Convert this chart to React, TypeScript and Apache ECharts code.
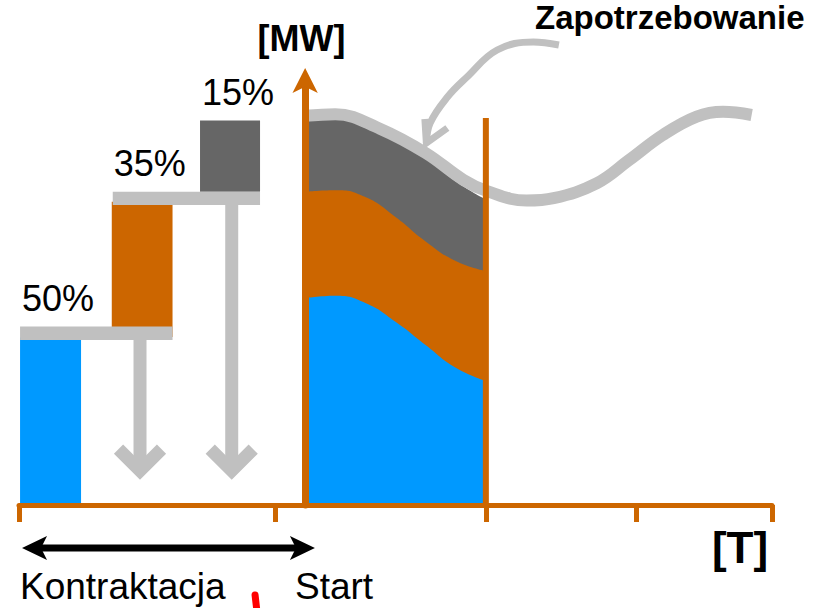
import React, { useEffect, useRef } from 'react';
import * as echarts from 'echarts';

// ---- data (time units on x, MW on y) ----
const timeTicks = [-38, -4, 24, 44, 62];

const loadTime = [0, 4, 8, 12, 16, 20, 24];
const baseLoad = [51.7, 52.3, 50.5, 45.8, 40, 34.3, 31];
const midLoad = [26.6, 26.4, 26.5, 26.2, 25.9, 26.7, 27.5];
const peakLoad = [18.2, 18.2, 17.3, 18.8, 20.9, 19.9, 17.9];

const demandTime = [0, 4, 10, 16, 21, 24, 29.4, 33, 38.7, 43, 47.5, 52, 55.5, 59.3];
const demand = [97.3, 97.7, 94, 88, 81.3, 78.6, 76.1, 76.7, 80.4, 86.2, 92.5, 97.1, 98.3, 97.5];

const shareLabels = ['50%', '35%', '15%'];
const blockStart = [-37.86, -25.68, -13.96];
const blockEnd = [-29.76, -17.61, -5.99];
const blockBottom = [0, 42, 78.3];
const blockTop = [41.9, 75.8, 96.1];
const labelLevel = [44.6, 78.3, 96.1];

const shelfStart = [-37.86, -25.55];
const shelfEnd = [-17.61, -5.99];
const shelfBottom = [41.25, 75];
const shelfTop = [44.6, 78.3];

const dropX = [-21.93, -9.75];
const dropFrom = [41.25, 75];
const dropTo = [8.6, 8.6];

const limitTime = [24, 24];
const limitValue = [0, 96.75];

const pointerTime = [33.7, 30.3, 25.5, 21.5, 18.9, 16.6, 16.1];
const pointerValue = [115, 115.75, 113.75, 107, 102, 95.5, 90.5];

const contractTime = [-37.6, 1.3];
const contractLevel = -10.75;

const markTime = [-6.65, -6.39];
const markValue = [-22.5, -26.75];

const yName = '[MW]';
const xName = '[T]';
const demandName = 'Zapotrzebowanie';
const phaseLabels = ['Kontraktacja', 'Start'];

// ---- styles ----
const ORANGE = '#CC6600';
const BLUE = '#0099FF';
const DARK = '#666666';
const LIGHT = '#C0C0C0';
const blockColors = [BLUE, ORANGE, DARK];
const FONT = '"Liberation Sans", Arial, Helvetica, sans-serif';

function textStyle(text: string, font: string, align: string) {
  return {
    text,
    font,
    fill: '#000000',
    textAlign: align,
    align,
    textVerticalAlign: 'middle',
    verticalAlign: 'middle',
  };
}

export default function App() {
  const ref = useRef<HTMLDivElement>(null);

  useEffect(() => {
    if (!ref.current) return;
    const chart = echarts.init(ref.current, undefined, { renderer: 'svg' });

    const pair = (xs: number[], ys: number[]) => xs.map((x, i) => [x, ys[i]]);
    const midTop = baseLoad.map((b, i) => b + midLoad[i]);
    const peakTop = midTop.map((m, i) => m + peakLoad[i]);

    const option: any = {
      animation: false,
      backgroundColor: '#ffffff',
      grid: { left: 19, right: 42, top: 78, bottom: 103, containLabel: false, outerBoundsMode: 'none' },
      xAxis: {
        type: 'value',
        min: -38,
        max: 62,
        z: 10,
        axisLine: { show: true, onZero: true, lineStyle: { color: ORANGE, width: 5 } },
        axisTick: { show: true, customValues: timeTicks, length: 17, lineStyle: { color: ORANGE, width: 5 } },
        axisLabel: { show: false },
        splitLine: { show: false },
      },
      yAxis: {
        type: 'value',
        min: 0,
        max: 106.75,
        z: 10,
        axisLine: {
          show: true,
          onZero: true,
          symbol: ['none', 'arrow'],
          symbolSize: [19, 25],
          symbolOffset: [0, 10],
          lineStyle: { color: ORANGE, width: 7 },
        },
        axisTick: { show: false },
        axisLabel: { show: false },
        splitLine: { show: false },
      },
      series: [
        {
          name: 'peak', type: 'line', smooth: 0.5, symbol: 'none', z: 2,
          lineStyle: { width: 0 }, areaStyle: { color: DARK, opacity: 1 },
          data: pair(loadTime, peakTop),
        },
        {
          name: 'mid', type: 'line', smooth: 0.5, symbol: 'none', z: 2,
          lineStyle: { width: 0 }, areaStyle: { color: ORANGE, opacity: 1 },
          data: pair(loadTime, midTop),
        },
        {
          name: 'base', type: 'line', smooth: 0.5, symbol: 'none', z: 2,
          lineStyle: { width: 0 }, areaStyle: { color: BLUE, opacity: 1 },
          data: pair(loadTime, baseLoad),
        },
        {
          name: demandName, type: 'line', smooth: 0.4, symbol: 'none', z: 3, clip: false,
          lineStyle: { color: LIGHT, width: 12, cap: 'butt' },
          data: pair(demandTime, demand),
        },
        {
          name: 'pointer', type: 'line', smooth: 0.4, symbol: 'none', z: 4, clip: false,
          lineStyle: { color: LIGHT, width: 7, cap: 'butt' },
          data: pair(pointerTime, pointerValue),
        },
        {
          name: 'pointerHead', type: 'custom', z: 4, clip: false,
          data: [[pointerTime[pointerTime.length - 1], pointerValue[pointerValue.length - 1]]],
          encode: { x: 0, y: 1 },
          renderItem: (params: any, api: any) => {
            const p = api.coord([api.value(0), api.value(1)]);
            return {
              type: 'polyline',
              shape: { points: [[p[0] - 1.5, p[1] - 24], [p[0], p[1]], [p[0] + 21, p[1] - 15]] },
              style: { stroke: LIGHT, lineWidth: 7, fill: 'none', lineJoin: 'miter' },
            };
          },
        },
        {
          name: 'limit', type: 'line', symbol: 'none', z: 5, clip: false,
          lineStyle: { color: ORANGE, width: 6, cap: 'butt' },
          data: pair(limitTime, limitValue),
        },
        {
          name: 'blocks', type: 'custom', z: 2, clip: false,
          data: blockStart.map((s, i) => [s, blockEnd[i], blockBottom[i], blockTop[i], labelLevel[i]]),
          encode: { x: [0, 1], y: [2, 3] },
          renderItem: (params: any, api: any) => {
            const i = params.dataIndex;
            const tl = api.coord([api.value(0), api.value(3)]);
            const br = api.coord([api.value(1), api.value(2)]);
            const lab = api.coord([api.value(0), api.value(4)]);
            return {
              type: 'group',
              children: [
                {
                  type: 'rect',
                  shape: { x: tl[0], y: tl[1], width: br[0] - tl[0], height: br[1] - tl[1] },
                  style: { fill: blockColors[i] },
                },
                {
                  type: 'text',
                  x: lab[0] + 2,
                  y: lab[1] - 28.5,
                  style: textStyle(shareLabels[i], `36px ${FONT}`, 'left'),
                },
              ],
            };
          },
        },
        {
          name: 'shelves', type: 'custom', z: 3, clip: false,
          data: shelfStart.map((s, i) => [s, shelfEnd[i], shelfBottom[i], shelfTop[i]]),
          encode: { x: [0, 1], y: [2, 3] },
          renderItem: (params: any, api: any) => {
            const tl = api.coord([api.value(0), api.value(3)]);
            const br = api.coord([api.value(1), api.value(2)]);
            return {
              type: 'rect',
              shape: { x: tl[0], y: tl[1], width: br[0] - tl[0], height: br[1] - tl[1] },
              style: { fill: LIGHT },
            };
          },
        },
        {
          name: 'drops', type: 'custom', z: 3, clip: false,
          data: dropX.map((x, i) => [x, dropFrom[i], dropTo[i]]),
          encode: { x: 0, y: [1, 2] },
          renderItem: (params: any, api: any) => {
            const p0 = api.coord([api.value(0), api.value(1)]);
            const p1 = api.coord([api.value(0), api.value(2)]);
            return {
              type: 'group',
              children: [
                {
                  type: 'line',
                  shape: { x1: p0[0], y1: p0[1], x2: p1[0], y2: p1[1] },
                  style: { stroke: LIGHT, lineWidth: 13 },
                },
                {
                  type: 'polyline',
                  shape: { points: [[p1[0] - 21.5, p1[1] - 21.5], [p1[0], p1[1]], [p1[0] + 21.5, p1[1] - 21.5]] },
                  style: { stroke: LIGHT, lineWidth: 13, fill: 'none', lineJoin: 'miter' },
                },
              ],
            };
          },
        },
        {
          name: 'contract', type: 'custom', z: 6, clip: false,
          data: [[contractTime[0], contractTime[1], contractLevel]],
          encode: { x: [0, 1], y: 2 },
          renderItem: (params: any, api: any) => {
            const a = api.coord([api.value(0), api.value(2)]);
            const b = api.coord([api.value(1), api.value(2)]);
            const L = 25, H = 12, N = 19;
            return {
              type: 'group',
              children: [
                {
                  type: 'line',
                  shape: { x1: a[0] + N - 1, y1: a[1], x2: b[0] - N + 1, y2: b[1] },
                  style: { stroke: '#000000', lineWidth: 7 },
                },
                {
                  type: 'polygon',
                  shape: { points: [[a[0], a[1]], [a[0] + L, a[1] - H], [a[0] + N, a[1]], [a[0] + L, a[1] + H]] },
                  style: { fill: '#000000' },
                },
                {
                  type: 'polygon',
                  shape: { points: [[b[0], b[1]], [b[0] - L, b[1] - H], [b[0] - N, b[1]], [b[0] - L, b[1] + H]] },
                  style: { fill: '#000000' },
                },
              ],
            };
          },
        },
        {
          name: 'mark', type: 'line', symbol: 'none', z: 6, clip: false,
          lineStyle: { color: '#FF0000', width: 7, cap: 'round' },
          data: pair(markTime, markValue),
        },
      ],
      graphic: [
        { type: 'text', x: 301.5, y: 38, z: 20, style: textStyle(yName, `bold 36px ${FONT}`, 'center') },
        { type: 'text', x: 740, y: 547, z: 20, style: textStyle(xName, `bold 44px ${FONT}`, 'center') },
        { type: 'text', x: 535, y: 17.5, z: 20, style: textStyle(demandName, `bold 33px ${FONT}`, 'left') },
        { type: 'text', x: 20, y: 586, z: 20, style: textStyle(phaseLabels[0], `37px ${FONT}`, 'left') },
        { type: 'text', x: 295, y: 586, z: 20, style: textStyle(phaseLabels[1], `37px ${FONT}`, 'left') },
      ],
    };

    chart.setOption(option);
    return () => chart.dispose();
  }, []);

  return (
    <div
      ref={ref}
      style={{ position: 'fixed', left: 0, top: 0, width: 814, height: 608, background: '#ffffff' }}
    />
  );
}
